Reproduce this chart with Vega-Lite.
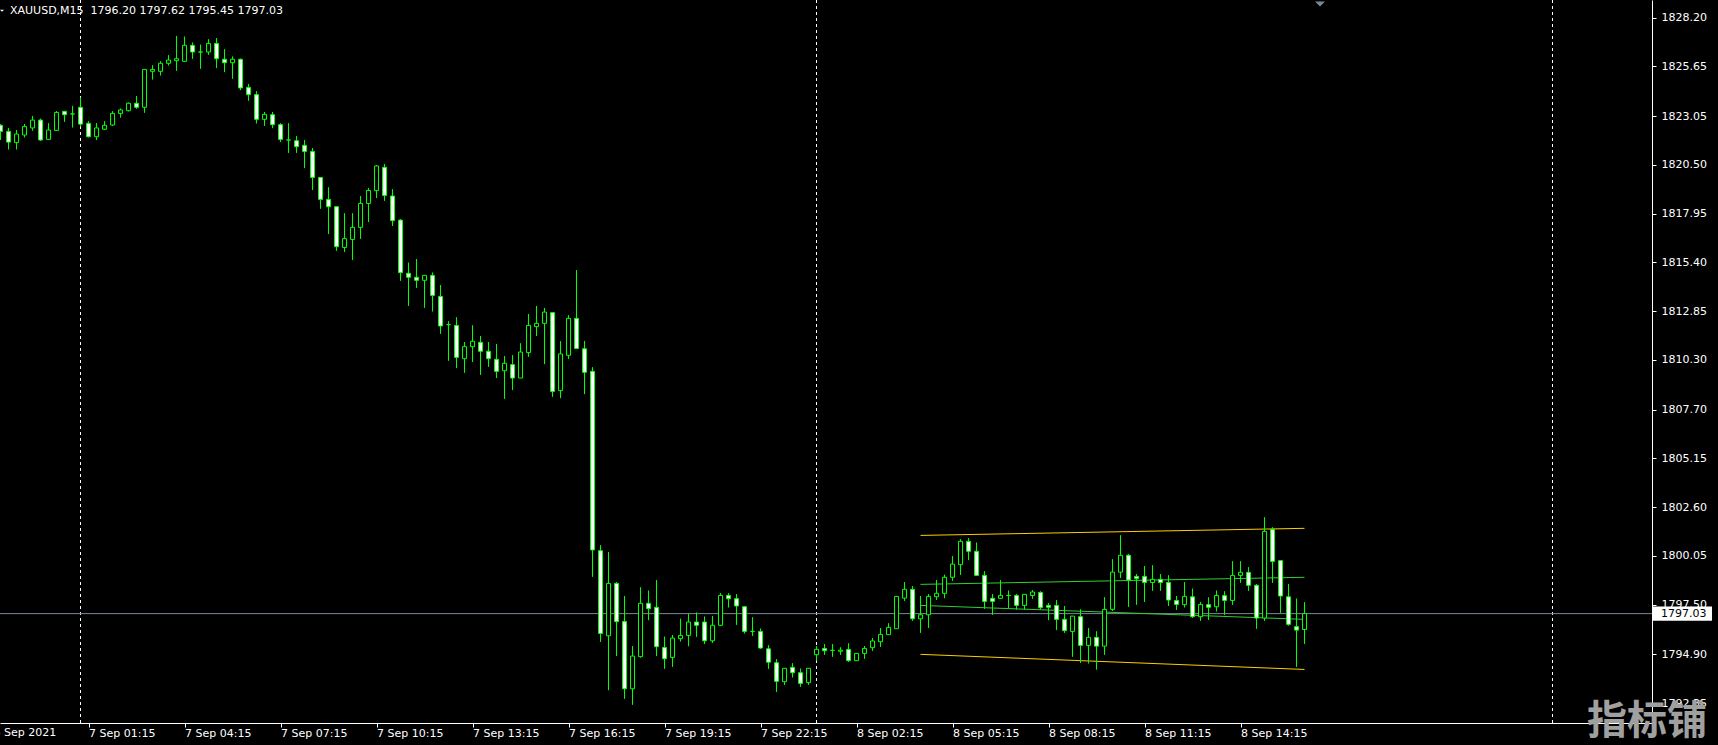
{
  "$schema": "https://vega.github.io/schema/vega-lite/v6.json",
  "width": 1652,
  "height": 723,
  "autosize": {"type": "none"},
  "padding": {"left": 0, "top": 0, "right": 66, "bottom": 22},
  "background": "#000000",
  "config": {
    "view": {"stroke": null},
    "axis": {"title": null, "grid": false, "labelFont": "DejaVu Sans", "labelFontSize": 11, "labelColor": "#FFFFFF", "tickColor": "#FFFFFF", "domainColor": "#FFFFFF", "tickSize": 4, "labelOverlap": false, "labelFlush": false, "labelBound": false}
  },
  "datasets": {
    "bars": [
      {"i":0,"o":1822.57,"h":1822.62,"l":1821.80,"c":1822.25},
      {"i":1,"o":1822.25,"h":1822.43,"l":1821.31,"c":1821.69},
      {"i":2,"o":1821.66,"h":1822.32,"l":1821.31,"c":1822.11},
      {"i":3,"o":1822.06,"h":1822.63,"l":1821.94,"c":1822.50},
      {"i":4,"o":1822.43,"h":1823.05,"l":1822.29,"c":1822.84},
      {"i":5,"o":1822.84,"h":1822.91,"l":1821.76,"c":1821.80},
      {"i":6,"o":1821.83,"h":1822.67,"l":1821.83,"c":1822.32},
      {"i":7,"o":1822.30,"h":1823.30,"l":1822.30,"c":1823.24},
      {"i":8,"o":1823.30,"h":1823.30,"l":1822.76,"c":1823.12},
      {"i":9,"o":1823.16,"h":1823.58,"l":1822.46,"c":1823.16},
      {"i":10,"o":1823.51,"h":1824.03,"l":1822.50,"c":1822.63},
      {"i":11,"o":1822.67,"h":1822.77,"l":1821.94,"c":1821.97},
      {"i":12,"o":1821.97,"h":1822.67,"l":1821.80,"c":1822.43},
      {"i":13,"o":1822.36,"h":1822.77,"l":1822.32,"c":1822.57},
      {"i":14,"o":1822.58,"h":1823.30,"l":1822.53,"c":1823.19},
      {"i":15,"o":1823.19,"h":1823.44,"l":1822.98,"c":1823.37},
      {"i":16,"o":1823.33,"h":1823.75,"l":1823.30,"c":1823.72},
      {"i":17,"o":1823.72,"h":1824.10,"l":1823.44,"c":1823.51},
      {"i":18,"o":1823.51,"h":1825.49,"l":1823.23,"c":1825.49},
      {"i":19,"o":1825.39,"h":1825.70,"l":1824.97,"c":1825.49},
      {"i":20,"o":1825.39,"h":1825.91,"l":1825.18,"c":1825.81},
      {"i":21,"o":1825.81,"h":1826.23,"l":1825.70,"c":1825.98},
      {"i":22,"o":1825.95,"h":1827.24,"l":1825.42,"c":1826.05},
      {"i":23,"o":1825.91,"h":1827.20,"l":1825.91,"c":1826.75},
      {"i":24,"o":1826.75,"h":1826.89,"l":1826.05,"c":1826.40},
      {"i":25,"o":1826.40,"h":1826.78,"l":1825.53,"c":1826.40},
      {"i":26,"o":1826.40,"h":1827.06,"l":1826.26,"c":1826.85},
      {"i":27,"o":1826.85,"h":1827.13,"l":1825.56,"c":1826.05},
      {"i":28,"o":1826.02,"h":1826.54,"l":1825.35,"c":1825.84},
      {"i":29,"o":1825.84,"h":1826.16,"l":1825.01,"c":1826.02},
      {"i":30,"o":1826.02,"h":1826.05,"l":1824.41,"c":1824.52},
      {"i":31,"o":1824.55,"h":1824.73,"l":1823.86,"c":1824.17},
      {"i":32,"o":1824.17,"h":1824.34,"l":1822.67,"c":1822.88},
      {"i":33,"o":1822.88,"h":1823.26,"l":1822.53,"c":1823.14},
      {"i":34,"o":1823.12,"h":1823.26,"l":1822.42,"c":1822.60},
      {"i":35,"o":1822.60,"h":1822.67,"l":1821.69,"c":1821.83},
      {"i":36,"o":1821.80,"h":1822.67,"l":1821.13,"c":1821.80},
      {"i":37,"o":1821.76,"h":1822.01,"l":1821.13,"c":1821.45},
      {"i":38,"o":1821.52,"h":1821.80,"l":1820.33,"c":1821.20},
      {"i":39,"o":1821.20,"h":1821.38,"l":1819.18,"c":1819.84},
      {"i":40,"o":1819.84,"h":1819.84,"l":1818.21,"c":1818.69},
      {"i":41,"o":1818.69,"h":1819.32,"l":1816.88,"c":1818.31},
      {"i":42,"o":1818.31,"h":1818.31,"l":1816.01,"c":1816.22},
      {"i":43,"o":1816.18,"h":1817.96,"l":1815.94,"c":1816.64},
      {"i":44,"o":1816.60,"h":1817.96,"l":1815.52,"c":1817.23},
      {"i":45,"o":1817.23,"h":1818.87,"l":1816.64,"c":1818.48},
      {"i":46,"o":1818.48,"h":1819.29,"l":1817.51,"c":1819.16},
      {"i":47,"o":1819.15,"h":1820.49,"l":1818.76,"c":1820.44},
      {"i":48,"o":1820.37,"h":1820.54,"l":1818.62,"c":1818.90},
      {"i":49,"o":1818.87,"h":1819.22,"l":1817.30,"c":1817.58},
      {"i":50,"o":1817.61,"h":1817.65,"l":1814.44,"c":1814.86},
      {"i":51,"o":1814.83,"h":1815.38,"l":1813.13,"c":1814.62},
      {"i":52,"o":1814.62,"h":1815.57,"l":1814.07,"c":1814.46},
      {"i":53,"o":1814.46,"h":1814.72,"l":1813.03,"c":1814.72},
      {"i":54,"o":1814.72,"h":1814.86,"l":1812.84,"c":1813.67},
      {"i":55,"o":1813.62,"h":1814.21,"l":1811.67,"c":1812.07},
      {"i":56,"o":1812.14,"h":1812.31,"l":1810.26,"c":1812.14},
      {"i":57,"o":1812.10,"h":1812.52,"l":1809.87,"c":1810.43},
      {"i":58,"o":1810.36,"h":1811.23,"l":1809.63,"c":1810.99},
      {"i":59,"o":1810.99,"h":1812.10,"l":1810.19,"c":1811.27},
      {"i":60,"o":1811.22,"h":1811.55,"l":1809.52,"c":1810.75},
      {"i":61,"o":1810.75,"h":1811.23,"l":1809.94,"c":1810.36},
      {"i":62,"o":1810.33,"h":1811.13,"l":1809.35,"c":1809.70},
      {"i":63,"o":1809.73,"h":1810.50,"l":1808.27,"c":1810.12},
      {"i":64,"o":1810.05,"h":1810.54,"l":1808.72,"c":1809.35},
      {"i":65,"o":1809.35,"h":1811.16,"l":1809.35,"c":1810.71},
      {"i":66,"o":1810.68,"h":1812.70,"l":1810.47,"c":1812.10},
      {"i":67,"o":1812.04,"h":1813.12,"l":1811.55,"c":1812.21},
      {"i":68,"o":1812.21,"h":1813.01,"l":1810.08,"c":1812.80},
      {"i":69,"o":1812.77,"h":1812.80,"l":1808.37,"c":1808.65},
      {"i":70,"o":1808.69,"h":1811.27,"l":1808.30,"c":1810.61},
      {"i":71,"o":1810.54,"h":1812.63,"l":1810.36,"c":1812.47},
      {"i":72,"o":1812.47,"h":1815.00,"l":1810.89,"c":1810.89},
      {"i":73,"o":1810.88,"h":1811.29,"l":1808.51,"c":1809.65},
      {"i":74,"o":1809.70,"h":1809.91,"l":1798.96,"c":1800.36},
      {"i":75,"o":1800.32,"h":1800.60,"l":1795.56,"c":1795.99},
      {"i":76,"o":1795.87,"h":1800.25,"l":1793.03,"c":1798.61},
      {"i":77,"o":1798.61,"h":1798.68,"l":1794.81,"c":1796.61},
      {"i":78,"o":1796.62,"h":1797.95,"l":1792.58,"c":1793.10},
      {"i":79,"o":1793.10,"h":1795.33,"l":1792.27,"c":1794.81},
      {"i":80,"o":1794.78,"h":1798.40,"l":1794.74,"c":1797.57},
      {"i":81,"o":1797.57,"h":1798.23,"l":1796.69,"c":1797.29},
      {"i":82,"o":1797.36,"h":1798.79,"l":1794.81,"c":1795.30},
      {"i":83,"o":1795.26,"h":1795.82,"l":1794.15,"c":1794.67},
      {"i":84,"o":1794.74,"h":1795.91,"l":1794.25,"c":1795.75},
      {"i":85,"o":1795.72,"h":1796.76,"l":1795.58,"c":1795.89},
      {"i":86,"o":1795.89,"h":1797.01,"l":1795.33,"c":1796.59},
      {"i":87,"o":1796.59,"h":1797.08,"l":1795.82,"c":1796.42},
      {"i":88,"o":1796.59,"h":1796.87,"l":1795.44,"c":1795.61},
      {"i":89,"o":1795.61,"h":1796.90,"l":1795.51,"c":1796.42},
      {"i":90,"o":1796.42,"h":1798.09,"l":1796.38,"c":1797.98},
      {"i":91,"o":1797.98,"h":1798.09,"l":1797.36,"c":1797.81},
      {"i":92,"o":1797.81,"h":1798.05,"l":1796.45,"c":1797.43},
      {"i":93,"o":1797.39,"h":1797.43,"l":1796.00,"c":1796.10},
      {"i":94,"o":1796.10,"h":1796.83,"l":1795.86,"c":1796.10},
      {"i":95,"o":1796.10,"h":1796.24,"l":1795.19,"c":1795.23},
      {"i":96,"o":1795.19,"h":1795.37,"l":1794.15,"c":1794.49},
      {"i":97,"o":1794.46,"h":1794.64,"l":1792.93,"c":1793.49},
      {"i":98,"o":1793.47,"h":1794.17,"l":1793.31,"c":1794.17},
      {"i":99,"o":1794.22,"h":1794.43,"l":1793.70,"c":1793.94},
      {"i":100,"o":1793.94,"h":1794.15,"l":1793.21,"c":1793.38},
      {"i":101,"o":1793.42,"h":1794.17,"l":1793.31,"c":1794.17},
      {"i":102,"o":1794.88,"h":1795.33,"l":1794.57,"c":1795.16},
      {"i":103,"o":1795.21,"h":1795.44,"l":1794.88,"c":1795.09},
      {"i":104,"o":1795.11,"h":1795.44,"l":1794.78,"c":1795.11},
      {"i":105,"o":1795.06,"h":1795.26,"l":1794.88,"c":1795.12},
      {"i":106,"o":1795.16,"h":1795.47,"l":1794.50,"c":1794.57},
      {"i":107,"o":1794.57,"h":1794.95,"l":1794.57,"c":1794.95},
      {"i":108,"o":1794.95,"h":1795.33,"l":1794.67,"c":1795.21},
      {"i":109,"o":1795.25,"h":1795.75,"l":1795.09,"c":1795.60},
      {"i":110,"o":1795.56,"h":1796.27,"l":1795.30,"c":1795.94},
      {"i":111,"o":1795.93,"h":1796.52,"l":1795.93,"c":1796.31},
      {"i":112,"o":1796.24,"h":1797.93,"l":1796.24,"c":1797.93},
      {"i":113,"o":1797.84,"h":1798.68,"l":1797.70,"c":1798.30},
      {"i":114,"o":1798.30,"h":1798.47,"l":1796.66,"c":1796.76},
      {"i":115,"o":1796.76,"h":1797.95,"l":1796.03,"c":1796.97},
      {"i":116,"o":1796.97,"h":1798.05,"l":1796.28,"c":1797.93},
      {"i":117,"o":1797.91,"h":1798.79,"l":1797.74,"c":1798.09},
      {"i":118,"o":1798.09,"h":1799.06,"l":1797.84,"c":1798.93},
      {"i":119,"o":1798.93,"h":1800.04,"l":1798.75,"c":1799.62},
      {"i":120,"o":1799.59,"h":1800.91,"l":1799.06,"c":1800.81},
      {"i":121,"o":1800.81,"h":1800.98,"l":1799.83,"c":1800.29},
      {"i":122,"o":1800.29,"h":1800.74,"l":1799.03,"c":1799.03},
      {"i":123,"o":1799.03,"h":1799.24,"l":1797.29,"c":1797.67},
      {"i":124,"o":1797.83,"h":1798.05,"l":1796.97,"c":1797.67},
      {"i":125,"o":1797.83,"h":1798.79,"l":1797.81,"c":1797.98},
      {"i":126,"o":1797.98,"h":1798.23,"l":1797.32,"c":1797.98},
      {"i":127,"o":1797.98,"h":1798.05,"l":1797.25,"c":1797.46},
      {"i":128,"o":1797.46,"h":1798.04,"l":1797.25,"c":1798.04},
      {"i":129,"o":1797.98,"h":1798.26,"l":1797.81,"c":1798.16},
      {"i":130,"o":1798.14,"h":1798.19,"l":1797.25,"c":1797.34},
      {"i":131,"o":1797.46,"h":1797.57,"l":1796.69,"c":1797.36},
      {"i":132,"o":1797.46,"h":1797.74,"l":1796.17,"c":1796.73},
      {"i":133,"o":1796.73,"h":1797.43,"l":1796.03,"c":1796.14},
      {"i":134,"o":1796.10,"h":1796.90,"l":1794.78,"c":1796.90},
      {"i":135,"o":1796.87,"h":1797.25,"l":1794.46,"c":1795.37},
      {"i":136,"o":1795.37,"h":1796.28,"l":1794.43,"c":1795.79},
      {"i":137,"o":1795.79,"h":1796.10,"l":1794.11,"c":1795.33},
      {"i":138,"o":1795.33,"h":1797.88,"l":1794.88,"c":1797.25},
      {"i":139,"o":1797.25,"h":1799.87,"l":1797.18,"c":1799.20},
      {"i":140,"o":1799.20,"h":1801.12,"l":1798.89,"c":1800.08},
      {"i":141,"o":1800.08,"h":1800.15,"l":1797.39,"c":1798.79},
      {"i":142,"o":1798.98,"h":1799.10,"l":1797.50,"c":1798.86},
      {"i":143,"o":1798.98,"h":1799.52,"l":1797.64,"c":1798.66},
      {"i":144,"o":1798.66,"h":1799.55,"l":1798.23,"c":1798.82},
      {"i":145,"o":1798.82,"h":1799.10,"l":1798.23,"c":1798.66},
      {"i":146,"o":1798.66,"h":1799.03,"l":1797.43,"c":1797.74},
      {"i":147,"o":1797.72,"h":1797.95,"l":1797.22,"c":1797.51},
      {"i":148,"o":1797.50,"h":1798.68,"l":1797.36,"c":1797.93},
      {"i":149,"o":1797.91,"h":1798.33,"l":1796.80,"c":1796.87},
      {"i":150,"o":1796.87,"h":1797.64,"l":1796.66,"c":1797.51},
      {"i":151,"o":1797.50,"h":1797.88,"l":1796.70,"c":1797.36},
      {"i":152,"o":1797.39,"h":1798.23,"l":1797.15,"c":1797.98},
      {"i":153,"o":1797.97,"h":1798.19,"l":1796.97,"c":1797.72},
      {"i":154,"o":1797.72,"h":1799.76,"l":1797.50,"c":1799.03},
      {"i":155,"o":1799.03,"h":1799.76,"l":1798.65,"c":1799.19},
      {"i":156,"o":1799.19,"h":1799.45,"l":1798.23,"c":1798.51},
      {"i":157,"o":1798.51,"h":1798.58,"l":1796.24,"c":1796.80},
      {"i":158,"o":1796.80,"h":1802.06,"l":1796.66,"c":1801.33},
      {"i":159,"o":1801.44,"h":1801.54,"l":1798.65,"c":1799.76},
      {"i":160,"o":1799.80,"h":1799.83,"l":1797.08,"c":1797.95},
      {"i":161,"o":1797.91,"h":1798.58,"l":1796.41,"c":1796.47},
      {"i":162,"o":1796.35,"h":1797.81,"l":1794.25,"c":1796.17},
      {"i":163,"o":1796.20,"h":1797.62,"l":1795.45,"c":1797.03}
    ],
    "channels": [
      {"g":"yu","i":115,"p":1801.12},{"g":"yu","i":163,"p":1801.49},
      {"g":"yl","i":115,"p":1794.90},{"g":"yl","i":163,"p":1794.11},
      {"g":"gu","i":115,"p":1798.56},{"g":"gu","i":163,"p":1798.93},
      {"g":"gl","i":115,"p":1797.46},{"g":"gl","i":163,"p":1796.73}
    ],
    "seps": [{"i":10},{"i":102},{"i":194}]
  },
  "layer": [
    {
      "data": {"name": "bars"},
      "mark": {"type": "rule", "color": "#00FF00", "strokeWidth": 1},
      "encoding": {
        "x": {"field": "i", "type": "quantitative", "scale": {"domain": [-0.0625, 206.4375], "nice": false, "zero": false, "padding": 0},
          "axis": {"orient": "bottom", "values": [11, 23, 35, 47, 59, 71, 83, 95, 107, 119, 131, 143, 155], "labelAlign": "left", "labelDx": 1, "labelPadding": 0,
            "labelExpr": "datum.value == 11 ? '7 Sep 01:15' : datum.value == 23 ? '7 Sep 04:15' : datum.value == 35 ? '7 Sep 07:15' : datum.value == 47 ? '7 Sep 10:15' : datum.value == 59 ? '7 Sep 13:15' : datum.value == 71 ? '7 Sep 16:15' : datum.value == 83 ? '7 Sep 19:15' : datum.value == 95 ? '7 Sep 22:15' : datum.value == 107 ? '8 Sep 02:15' : datum.value == 119 ? '8 Sep 05:15' : datum.value == 131 ? '8 Sep 08:15' : datum.value == 143 ? '8 Sep 11:15' : '8 Sep 14:15'"}},
        "y": {"field": "l", "type": "quantitative", "scale": {"domain": [1791.31, 1829.12], "nice": false, "zero": false, "padding": 0},
          "axis": {"orient": "right", "values": [1828.20, 1825.65, 1823.05, 1820.50, 1817.95, 1815.40, 1812.85, 1810.30, 1807.70, 1805.15, 1802.60, 1800.05, 1797.50, 1794.90, 1792.35], "format": ".2f", "labelPadding": 5}},
        "y2": {"field": "h"}
      }
    },
    {
      "data": {"name": "seps"},
      "mark": {"type": "rule", "color": "#FFFFFF", "strokeWidth": 1, "strokeDash": [3, 3]},
      "encoding": {
        "x": {"field": "i", "type": "quantitative"}
      }
    },
    {
      "data": {"values": [{"p": 1797.03}]},
      "mark": {"type": "rule", "color": "#778899", "strokeWidth": 1},
      "encoding": {
        "y": {"field": "p", "type": "quantitative"}
      }
    },
    {
      "data": {"name": "channels"},
      "mark": {"type": "line", "strokeWidth": 1},
      "encoding": {
        "x": {"field": "i", "type": "quantitative"},
        "y": {"field": "p", "type": "quantitative"},
        "color": {"field": "g", "type": "nominal", "legend": null, "scale": {"domain": ["yu", "yl", "gu", "gl"], "range": ["#FFCC00", "#FFCC00", "#32CD32", "#32CD32"]}}
      }
    },
    {
      "data": {"name": "bars"},
      "mark": {"type": "rule", "color": "#00FF00", "strokeWidth": 1},
      "encoding": {
        "x": {"field": "i", "type": "quantitative"},
        "y": {"field": "l", "type": "quantitative"},
        "y2": {"field": "h"}
      }
    },
    {
      "data": {"name": "bars"},
      "mark": {"type": "bar", "size": 4, "stroke": "#00FF00", "strokeWidth": 1},
      "encoding": {
        "x": {"field": "i", "type": "quantitative"},
        "y": {"field": "o", "type": "quantitative"},
        "y2": {"field": "c"},
        "fill": {"condition": {"test": "datum.c < datum.o", "value": "#FFFFFF"}, "value": "#000000"}
      }
    },
    {
      "data": {"values": [{"t": "XAUUSD,M15\u00a0 1796.20 1797.62 1795.45 1797.03"}]},
      "mark": {"type": "text", "align": "left", "baseline": "middle", "font": "DejaVu Sans", "fontSize": 11, "color": "#FFFFFF"},
      "encoding": {
        "x": {"datum": 1.1875, "type": "quantitative"},
        "y": {"datum": 1828.545, "type": "quantitative"},
        "text": {"field": "t"}
      }
    },
    {
      "data": {"values": [{"d": "6 Sep 2021"}]},
      "mark": {"type": "text", "align": "left", "baseline": "top", "font": "DejaVu Sans", "fontSize": 11, "color": "#FFFFFF"},
      "encoding": {
        "x": {"datum": -0.875, "type": "quantitative"},
        "y": {"datum": 1791.1, "type": "quantitative"},
        "text": {"field": "d"}
      }
    },
    {
      "data": {"values": [{"k": "a"}]},
      "mark": {"type": "point", "shape": "M-1,-0.5L1,-0.5L0,0.5Z", "size": 16, "filled": true, "color": "#FFFFFF", "opacity": 1},
      "encoding": {
        "x": {"datum": 0.1875, "type": "quantitative"},
        "y": {"datum": 1828.56, "type": "quantitative"}
      }
    },
    {
      "data": {"values": [{"k": "b"}]},
      "mark": {"type": "point", "shape": "M-1,-0.5L1,-0.5L0,0.5Z", "size": 100, "filled": true, "color": "#778899", "opacity": 1},
      "encoding": {
        "x": {"datum": 164.94, "type": "quantitative"},
        "y": {"datum": 1828.91, "type": "quantitative"}
      }
    },
    {
      "data": {"values": [{"k": "c"}]},
      "mark": {"type": "rect", "fill": "#FFFFFF"},
      "encoding": {
        "x": {"datum": 206.44, "type": "quantitative"},
        "x2": {"datum": 213.94},
        "y": {"datum": 1797.40, "type": "quantitative"},
        "y2": {"datum": 1796.66}
      }
    },
    {
      "data": {"values": [{"v": "1797.03"}]},
      "mark": {"type": "text", "align": "left", "baseline": "middle", "font": "DejaVu Sans", "fontSize": 11, "color": "#000000"},
      "encoding": {
        "x": {"datum": 207.56, "type": "quantitative"},
        "y": {"datum": 1797.03, "type": "quantitative"},
        "text": {"field": "v"}
      }
    },
    {
      "data": {"values": [{"w": "指标铺"}]},
      "mark": {"type": "text", "align": "center", "baseline": "middle", "font": "Noto Sans CJK SC", "fontWeight": "bold", "fontSize": 40, "color": "#A0A0A0"},
      "encoding": {
        "x": {"datum": 205.8, "type": "quantitative"},
        "y": {"datum": 1791.36, "type": "quantitative"},
        "text": {"field": "w"}
      }
    }
  ]
}
